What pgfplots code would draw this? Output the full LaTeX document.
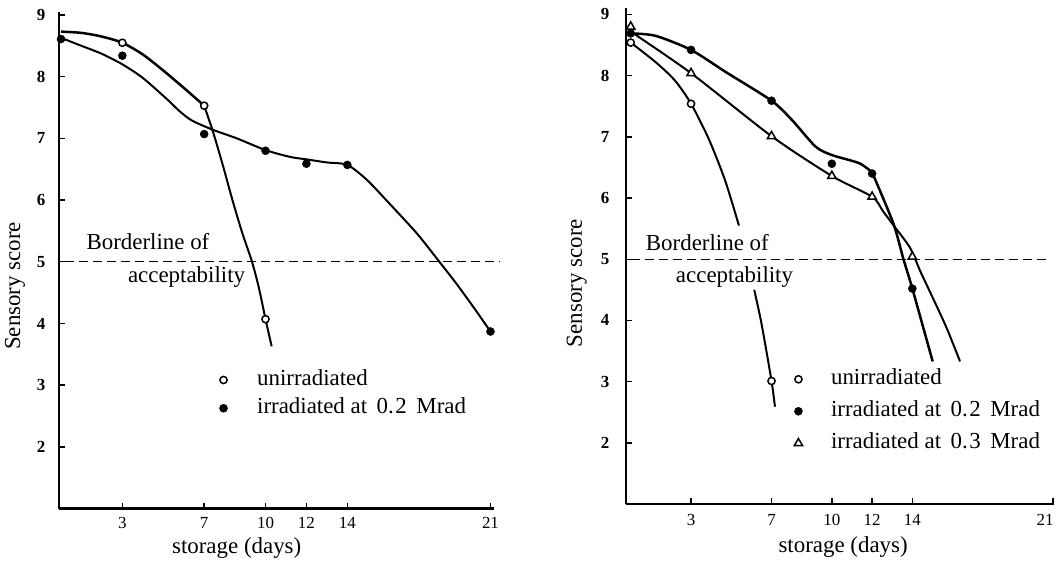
\documentclass[border=0pt]{standalone}
\usepackage{pgfplots}
\pgfplotsset{compat=1.18}
\usepackage{fontspec}
\setmainfont{Liberation Serif}
\newcommand\txt{\fontsize{23}{25}\selectfont}
\newcommand\tck{\fontsize{17}{18}\selectfont}
\pgfplotsset{
  panel/.style={
    scale only axis,
    axis x line*=bottom, axis y line*=left,
    axis line style={-, line width=2.4bp, black},
    tick align=inside,
    major tick length=6bp,
    tick style={black, line width=1.4bp},
    ymin=1,
    xtick={3,7,10,12,14,21},
    ytick={2,3,4,5,6,7,8,9},
    /pgf/number format/assume math mode=true,
    xticklabel style={font=\tck},
    yticklabel style={font=\bfseries\tck},
    clip=false,
    legend cell align=left,
    legend image code/.code={\path (0bp,0bp) (16bp,0bp); \draw[##1,only marks] plot coordinates {(8bp,0bp)};},
    legend style={draw=none, fill=none, inner sep=0bp, outer sep=0bp, font=\txt, anchor=north west,
      nodes={inner sep=2bp, text height=16bp, text depth=5bp}},
  },
  crv/.style={black, line width=2bp, smooth, tension=0.45, no marks, forget plot},
  thk/.style={line width=2.5bp},
  brd/.style={forget plot, black, line width=1.3bp, dash pattern=on 9bp off 5bp},
  openc/.style={only marks, mark=*, mark size=3.6bp, mark options={fill=white, draw=black, line width=1.5bp}},
  fillc/.style={only marks, mark=*, mark size=4bp, mark options={fill=black, draw=black, line width=0.5bp}},
  tri/.style={only marks, mark=triangle*, mark size=4.8bp, mark options={fill=white, draw=black, line width=1.5bp}},
}
\begin{document}
\begin{tikzpicture}
\path[use as bounding box] (0,0) rectangle (1059bp,561bp);
% ---------------- left panel ----------------
\begin{axis}[panel, at={(58.96bp,52.4bp)}, anchor=south west,
  width=434.6bp, height=496.7bp, xmin=-0.1, xmax=21.15, ymax=9.05,
  xticklabel style={yshift=-5.2bp}, yticklabel style={xshift=-10.2bp},
  legend style={at={(0.3598,0.2841)}, row sep=3.3bp, column sep=23.4bp}]
\addplot[brd] coordinates {(0.2,5) (21.47,5)};
% unirradiated curve
\addplot[crv, thk] coordinates {(0,8.73) (1,8.71) (2,8.65) (3,8.55) (4,8.36) (5,8.1) (6,7.82) (7,7.53)};
\addplot[crv] coordinates {(7,7.53) (7.42,7.12) (7.9,6.58) (8.4,5.98) (8.88,5.45) (9.34,5.0) (9.68,4.57) (10,4.07) (10.3,3.63)};
% irradiated 0.2 Mrad curve
\addplot[crv] coordinates {(0,8.63) (1,8.5) (2,8.37) (3,8.2) (4,7.98) (5.2,7.63) (5.8,7.44) (6.4,7.29)
  (7.42,7.14) (8.6,7.0) (10,6.81) (11.2,6.70) (12,6.66) (13,6.61) (14,6.57) (14.95,6.33) (15.9,6.0)
  (17.4,5.46) (18.5,5.0) (19.3,4.66) (20.2,4.25) (21,3.87)};
\addplot[openc] coordinates {(3,8.55) (7,7.53) (10,4.07)};
\addlegendentry{unirradiated}
\addplot[fillc] coordinates {(0,8.61) (3,8.34) (7,7.07) (10,6.80) (12,6.59) (14,6.57) (21,3.87)};
\addlegendentry{irradiated at\, 0.\kern1.5bp2\, Mrad}
\node[font=\txt] at (axis cs:4.25,5.33) {Borderline of};
\node[font=\txt] at (axis cs:6.14,4.75) {acceptability};
\node[font=\txt, rotate=90] at (axis cs:-2.25,4.61) {Sensory score};
\node[font=\txt] at (axis cs:8.59,0.353) {storage (days)};
\end{axis}
% ---------------- right panel ----------------
\begin{axis}[panel, at={(626.27bp,57bp)}, anchor=south west,
  width=427.9bp, height=495.7bp, xmin=-0.22, xmax=21.05, ymax=9.1,
  xticklabels={3,7,10,12,14,{\hspace*{-16bp}21}},
  xticklabel style={yshift=-6.6bp}, yticklabel style={xshift=-13.5bp},
  legend style={at={(0.3832,0.2768)}, row sep=7bp, column sep=22.4bp}]
\addplot[brd] coordinates {(0,5) (20.8,5)};
% unirradiated curve (broken by the label)
\addplot[crv] coordinates {(0,8.54) (1.24,8.22) (2.2,7.92) (3,7.54) (3.9,6.95) (4.7,6.28) (5.38,5.55)};
\addplot[crv] coordinates {(6.14,4.5) (6.5,3.95) (7,3.01) (7.17,2.59)};
% irradiated 0.2 Mrad curve
\addplot[crv, thk] coordinates {(0,8.69) (1.24,8.65) (3,8.42) (4.72,8.06) (7,7.59) (8.03,7.27) (9.19,6.84)
  (10.02,6.70) (11.35,6.57) (12,6.42)};
\addplot[crv, thk] coordinates {(12,6.42) (13.05,5.59) (13.55,5.01) (14,4.52) (15.01,3.33)};
% irradiated 0.3 Mrad curve
\addplot[crv] coordinates {(0,8.72) (3,8.04) (7,7.01) (10,6.36) (12,6.02) (12.55,5.78) (13.05,5.56)
  (13.88,5.19) (14.4,4.80) (15.0,4.38) (15.7,3.88) (16.37,3.33)};
\addplot[openc] coordinates {(0,8.54) (3,7.54) (7,3.01)};
\addlegendentry{unirradiated}
\addplot[fillc] coordinates {(0,8.69) (3,8.42) (7,7.59) (10,6.56) (12,6.40) (14,4.52)};
\addlegendentry{irradiated at\, 0.\kern1.5bp2\, Mrad}
\addplot[tri] coordinates {(0,8.8) (3,8.04) (7,7.01) (10,6.36) (12,6.02) (14,5.04)};
\addlegendentry{irradiated at\, 0.\kern1.5bp3\, Mrad}
\node[font=\txt] at (axis cs:3.81,5.27) {Borderline of};
\node[font=\txt] at (axis cs:5.16,4.71) {acceptability};
\node[font=\txt, rotate=90] at (axis cs:-2.68,4.61) {Sensory score};
\node[font=\txt] at (axis cs:10.56,0.289) {storage (days)};
\end{axis}
\end{tikzpicture}
\end{document}
